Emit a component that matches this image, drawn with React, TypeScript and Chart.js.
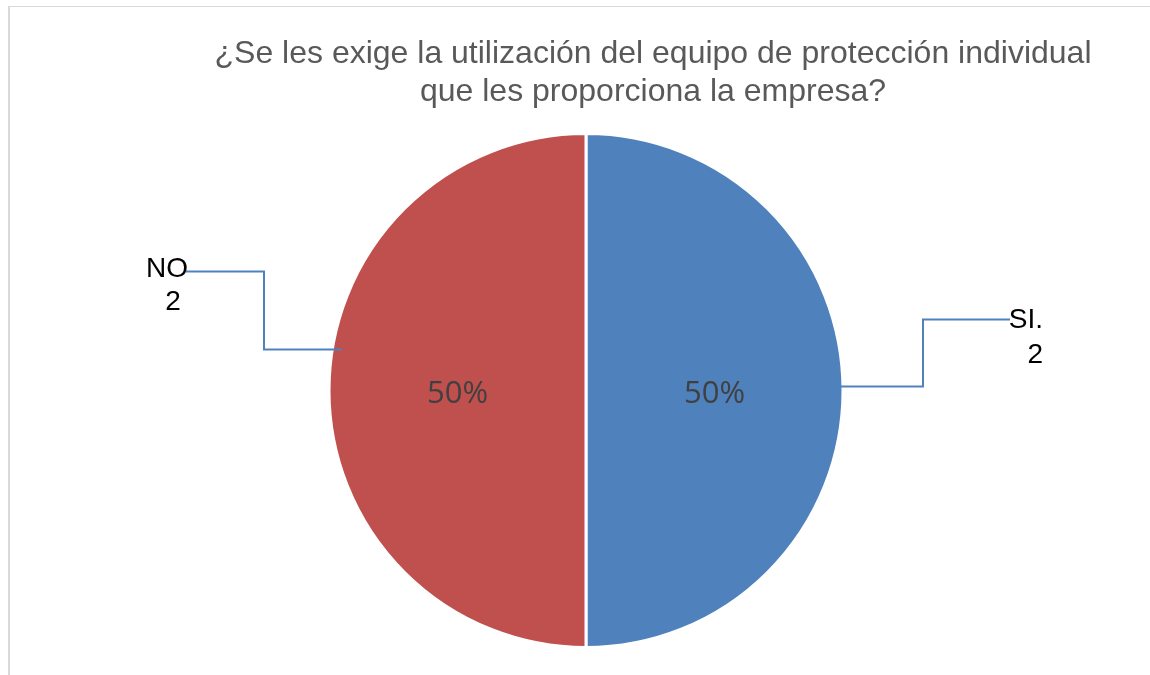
import React, { useEffect, useRef } from "react";
import { Chart, registerables } from "chart.js";

Chart.register(...registerables);

const categories = ["SI.", "NO"];
const values = [2, 2];
const sliceColors = ["#4F81BD", "#C0504D"];
const titleLines = [
  "¿Se les exige la utilización del equipo de protección individual",
  "que les proporciona la empresa?",
];

const W = 1150;
const H = 675;

const labelPlugin = {
  id: "excelLabels",
  afterDraw(chart: any) {
    const ctx = chart.ctx;
    const meta = chart.getDatasetMeta(0);
    const total = values.reduce((a, b) => a + b, 0);
    ctx.save();

    // Title
    ctx.fillStyle = "#595959";
    ctx.font = "32px 'Liberation Sans', Arial, sans-serif";
    ctx.textAlign = "center";
    ctx.textBaseline = "alphabetic";
    titleLines.forEach((t, i) => ctx.fillText(t, 653, 63 + i * 38));

    meta.data.forEach((arc: any, i: number) => {
      const { x, y, outerRadius, startAngle, endAngle } = arc.getProps(
        ["x", "y", "outerRadius", "startAngle", "endAngle"],
        true
      );
      const mid = (startAngle + endAngle) / 2;
      // percentage inside
      const pct = Math.round((values[i] / total) * 100) + "%";
      ctx.fillStyle = "#404040";
      ctx.font = "31px 'Open Sans', sans-serif";
      ctx.textAlign = "center";
      ctx.textBaseline = "alphabetic";
      const px = x + Math.cos(mid) * outerRadius * 0.5;
      const py = y + Math.sin(mid) * outerRadius * 0.5;
      ctx.fillText(pct, px, py + 12);

      // leader lines + category labels
      ctx.strokeStyle = "#4F81BD";
      ctx.lineWidth = 2;
      ctx.fillStyle = "#000000";
      ctx.font = "28px 'Liberation Sans', Arial, sans-serif";
      if (Math.cos(mid) > 0) {
        const sx = x + outerRadius - 8;
        const sy = y - 4;
        const kx = x + outerRadius + 80;
        const ty = y - 71;
        ctx.beginPath();
        ctx.moveTo(sx, sy);
        ctx.lineTo(kx, sy);
        ctx.lineTo(kx, ty);
        ctx.lineTo(kx + 87, ty);
        ctx.stroke();
        ctx.textAlign = "right";
        ctx.fillText(categories[i], kx + 120, ty + 8);
        ctx.fillText(String(values[i]), kx + 120, ty + 43);
      } else {
        const sx = x - outerRadius + 13;
        const sy = y - 41;
        const kx = x - outerRadius - 65;
        const ty = y - 119;
        ctx.beginPath();
        ctx.moveTo(sx, sy);
        ctx.lineTo(kx, sy);
        ctx.lineTo(kx, ty);
        ctx.lineTo(kx - 78, ty);
        ctx.stroke();
        ctx.textAlign = "center";
        ctx.fillText(categories[i], kx - 97, ty + 5);
        ctx.fillText(String(values[i]), kx - 91, ty + 38);
      }
    });
    ctx.restore();
  },
};

export default function App() {
  const ref = useRef<HTMLCanvasElement | null>(null);
  useEffect(() => {
    if (!ref.current) return;
    const chart = new Chart(ref.current, {
      type: "pie",
      data: {
        labels: categories,
        datasets: [
          {
            data: values,
            backgroundColor: sliceColors,
            borderColor: "#ffffff",
            borderWidth: 3,
          },
        ],
      },
      options: {
        animation: false,
        responsive: false,
        radius: 257,
        layout: { padding: { left: 330, right: 308, top: 135, bottom: 29 } },
        plugins: {
          legend: { display: false },
          tooltip: { enabled: false },
          title: { display: false },
        },
      },
      plugins: [labelPlugin],
    } as any);
    return () => chart.destroy();
  }, []);
  return (
    <div style={{ position: "fixed", left: 0, top: 0, width: W, height: H, background: "#fff" }}>
      <div
        style={{
          position: "absolute",
          left: 8,
          top: 6,
          right: -10,
          bottom: -10,
          borderLeft: "2px solid #d9d9d9",
          borderTop: "1px solid #d9d9d9",
        }}
      />
      <canvas ref={ref} width={W} height={H} style={{ position: "absolute", left: 0, top: 0, width: W, height: H }} />
    </div>
  );
}
